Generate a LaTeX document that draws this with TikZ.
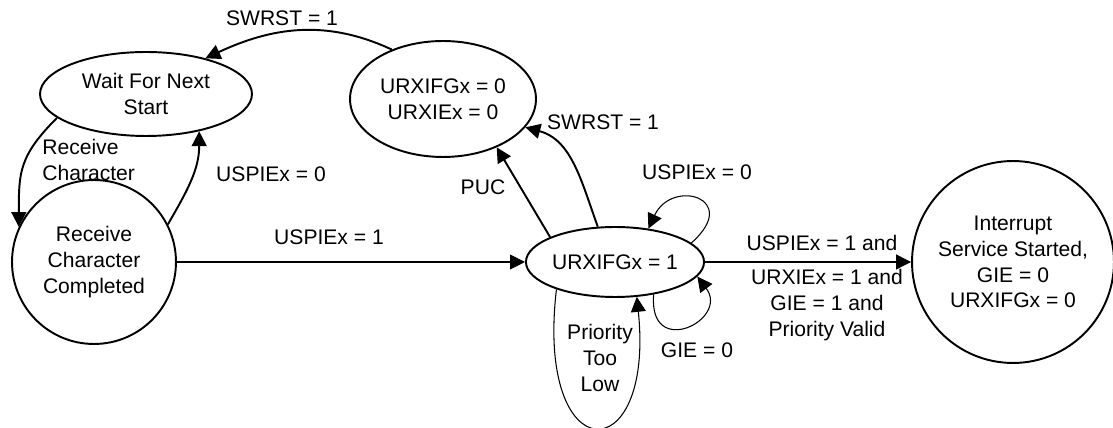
\documentclass[tikz,border=0pt]{standalone}
\usepackage{fontspec}
\setmainfont{Liberation Sans}
\usetikzlibrary{arrows.meta,shapes.geometric}
\tikzset{
  txt/.style={font=\fontsize{12}{14.7}\selectfont, align=center, inner sep=0pt},
  stateoval/.style={txt, draw, ellipse, line width=1.1pt},
  statecircle/.style={txt, draw, circle, line width=1.1pt},
  lbl/.style={txt},
  thickedge/.style={line width=1.1pt, -{Triangle[length=8.5pt,width=8.5pt]}},
  thinedge/.style={line width=0.6pt, -{Triangle[length=8.5pt,width=8.5pt]}}
}
\begin{document}
\begin{tikzpicture}[x=0.02cm,y=-0.02cm]
\useasboundingbox (0,0) rectangle (1113,428);
\node[stateoval, minimum width=4.24cm, minimum height=1.68cm] (wait) at (146,94) {Wait For Next\\Start};
\node[stateoval, minimum width=3.72cm, minimum height=2.32cm] (clear) at (443,99) {URXIFGx = 0\\URXIEx = 0};
\node[statecircle, minimum size=3.28cm] (done) at (94,262) {Receive\\Character\\Completed};
\node[stateoval, minimum width=3.48cm, minimum height=1.4cm] (flag) at (615,262) {URXIFGx = 1};
\node[statecircle, minimum size=4.04cm] (isr) at (1013,262) {Interrupt\\Service Started,\\GIE = 0\\URXIFGx = 0};
\draw[thickedge] (clear.136) to[out=155,in=25] (wait.31);
\draw[thickedge] (wait.195) to[out=225,in=90,looseness=1.2] (done.155);
\draw[thickedge] (done.27) to[out=60,in=270] (wait.325);
\draw[thinedge] (done.east) -- (flag.west);
\draw[thickedge] (flag.159) -- (clear.318);
\draw[thickedge] (flag.116) to[out=110,in=-15] (clear.341);
\draw[thinedge] (flag.14) .. controls (742,198) and (672,178) .. (flag.45);
\draw[thinedge] (flag.-40) .. controls (648,360) and (730,320) .. (flag.-10);
\draw[thinedge] (flag.205) .. controls (535,472) and (655,472) .. (flag.302);
\draw[thinedge] (flag.east) -- (isr.west);
\node[lbl] (swrstA) at (282,18) {SWRST = 1};
\node[lbl, align=left, anchor=west] (rxchar) at (42,160) {Receive\\Character};
\node[lbl] (uspieA) at (271,174) {USPIEx = 0};
\node[lbl] (uspieB) at (329,237) {USPIEx = 1};
\node[lbl] (puc) at (483,187) {PUC};
\node[lbl] (swrstB) at (603,122) {SWRST = 1};
\node[lbl] (uspieC) at (697,172) {USPIEx = 0};
\node[lbl] (gie) at (697,350) {GIE = 0};
\node[lbl] (prio) at (600,358) {Priority\\Too\\Low};
\node[lbl] (uspieD) at (822,243) {USPIEx = 1 and};
\node[lbl] (valid) at (827,305) {URXIEx = 1 and\\GIE = 1 and\\Priority Valid};
\end{tikzpicture}
\end{document}
